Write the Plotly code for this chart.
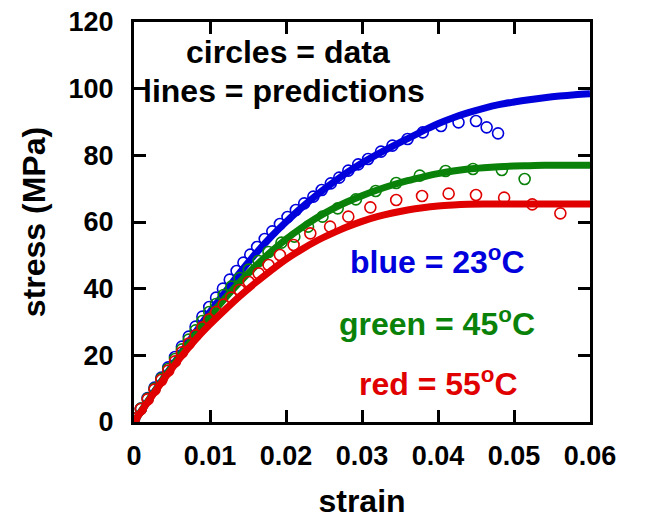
import plotly.graph_objects as go

# ---- prediction curves (lines) ----
pred_strain = [0.000, 0.002, 0.004, 0.006, 0.008, 0.010, 0.012, 0.014, 0.016, 0.018,
               0.020, 0.022, 0.024, 0.026, 0.028, 0.030, 0.032, 0.034, 0.036, 0.038,
               0.040, 0.042, 0.044, 0.046, 0.048, 0.050, 0.052, 0.054, 0.056, 0.058, 0.060]
pred_blue = [0, 6.8, 13.5, 20.0, 26.6, 33.0, 39.0, 45.0, 50.5, 55.5,
             60.0, 64.2, 68.0, 71.5, 74.8, 77.7, 80.3, 82.7, 85.0, 87.3,
             89.5, 91.3, 92.8, 94.1, 95.2, 96.0, 96.7, 97.3, 97.8, 98.2, 98.5]
pred_green = [0, 6.8, 13.4, 19.8, 25.9, 31.8, 37.2, 42.2, 46.8, 51.0,
              54.8, 58.2, 61.2, 63.8, 66.0, 67.9, 69.6, 71.1, 72.4, 73.5,
              74.5, 75.3, 75.9, 76.3, 76.6, 76.8, 76.9, 77.0, 77.0, 77.0, 77.0]
pred_red = [0, 6.6, 13.0, 19.0, 24.5, 29.3, 33.7, 37.9, 41.8, 45.4,
            48.8, 51.7, 54.3, 56.5, 58.5, 60.2, 61.6, 62.7, 63.6, 64.3,
            64.8, 65.1, 65.3, 65.4, 65.4, 65.4, 65.4, 65.4, 65.4, 65.4, 65.4]

# ---- measured data (circles) ----
blue_strain = [0.0000, 0.0009, 0.0018, 0.0027, 0.0036, 0.0045, 0.0054, 0.0063, 0.0072, 0.0081,
               0.0090, 0.0099, 0.0108, 0.0117, 0.0126, 0.0135, 0.0144, 0.0153, 0.0162, 0.0172,
               0.0182, 0.0192, 0.0202, 0.0213, 0.0224, 0.0236, 0.0247, 0.0259, 0.0270, 0.0282,
               0.0295, 0.0308, 0.0325, 0.0340, 0.0360, 0.0380, 0.0404, 0.0427, 0.0450, 0.0464, 0.0479]
blue_stress = [1.0, 4.0, 7.2, 10.3, 13.3, 16.4, 19.5, 22.6, 25.6, 28.6,
               31.6, 34.5, 37.3, 40.0, 42.7, 45.3, 47.8, 50.2, 52.5, 54.9,
               57.2, 59.4, 61.5, 63.6, 65.6, 67.6, 69.6, 71.6, 73.3, 75.4,
               77.3, 78.9, 81.1, 82.9, 84.9, 86.9, 88.8, 89.9, 90.3, 88.4, 86.6]

green_strain = [0.0000, 0.0009, 0.0018, 0.0027, 0.0036, 0.0045, 0.0054, 0.0063, 0.0072, 0.0081,
                0.0090, 0.0099, 0.0108, 0.0118, 0.0128, 0.0139, 0.0151, 0.0164, 0.0177, 0.0194,
                0.0211, 0.0229, 0.0248, 0.0268, 0.0292, 0.0318, 0.0345, 0.0376, 0.0410, 0.0446,
                0.0484, 0.0514]
green_stress = [1.0, 4.0, 7.0, 10.0, 13.0, 15.9, 18.9, 21.8, 24.7, 27.5,
                30.3, 33.0, 35.4, 38.1, 40.6, 43.2, 45.7, 48.3, 51.0, 53.8,
                55.6, 58.6, 61.6, 64.1, 66.8, 69.3, 71.7, 73.9, 75.3, 75.9,
                75.6, 72.9]

red_strain = [0.0000, 0.0009, 0.0018, 0.0027, 0.0036, 0.0045, 0.0054, 0.0063, 0.0072, 0.0081,
              0.0090, 0.0099, 0.0108, 0.0118, 0.0128, 0.0139, 0.0151, 0.0164, 0.0177, 0.0192,
              0.0210, 0.0232, 0.0258, 0.0282, 0.0311, 0.0345, 0.0379, 0.0414, 0.0450, 0.0487,
              0.0524, 0.0561]
red_stress = [1.0, 3.9, 6.8, 9.7, 12.6, 15.4, 18.2, 20.9, 23.5, 26.0,
              28.4, 30.8, 33.0, 35.2, 37.3, 39.6, 42.0, 44.6, 47.1, 50.1,
              53.1, 56.6, 58.6, 61.6, 64.4, 66.6, 67.8, 68.5, 68.1, 67.3,
              65.3, 62.6]

x_ticks = [0, 0.01, 0.02, 0.03, 0.04, 0.05, 0.06]
x_ticktext = ["0", "0.01", "0.02", "0.03", "0.04", "0.05", "0.06"]
y_ticks = [0, 20, 40, 60, 80, 100, 120]

BLUE = "#0000dd"
GREEN = "#0a820a"
RED = "#e00000"
FONT = "Liberation Sans, Arial, sans-serif"

fig = go.Figure()

series = [
    (pred_blue, blue_strain, blue_stress, BLUE),
    (pred_green, green_strain, green_stress, GREEN),
    (pred_red, red_strain, red_stress, RED),
]
for pred, xs, ys, col in series:
    fig.add_trace(go.Scatter(x=pred_strain, y=pred, mode="lines",
                             line=dict(color=col, width=7, shape="spline"),
                             showlegend=False, hoverinfo="skip"))
    fig.add_trace(go.Scatter(x=xs, y=ys, mode="markers",
                             marker=dict(symbol="circle-open", size=11, color=col,
                                         line=dict(width=1.6, color=col)),
                             showlegend=False))

ann_font = dict(family=FONT, size=32, color="black", weight="bold")
annotations = [
    dict(x=0.0203, y=111, text="circles = data", font=ann_font),
    dict(x=0.0197, y=99.3, text="lines = predictions", font=ann_font),
    dict(x=0.0399, y=48.6, text="blue = 23<sup>o</sup>C", font=dict(ann_font, color=BLUE)),
    dict(x=0.0399, y=30.0, text="green = 45<sup>o</sup>C", font=dict(ann_font, color=GREEN)),
    dict(x=0.0400, y=12.0, text="red = 55<sup>o</sup>C", font=dict(ann_font, color=RED)),
]
for a in annotations:
    fig.add_annotation(xref="x", yref="y", showarrow=False, xanchor="center",
                       yanchor="middle", **a)

axis_common = dict(showline=True, linecolor="black", linewidth=3, mirror="allticks",
                   ticks="inside", ticklen=12, tickwidth=2.5, tickcolor="black",
                   showgrid=False, zeroline=False, automargin=False,
                   tickfont=dict(family=FONT, size=27, color="black", weight="bold"))

fig.update_layout(
    width=649, height=520,
    margin=dict(l=134, r=59, t=22, b=98),
    paper_bgcolor="white", plot_bgcolor="white",
    xaxis=dict(range=[0, 0.06], tickvals=x_ticks, ticktext=x_ticktext,
               ticklabelstandoff=8,
               title=dict(text="strain", standoff=20,
                          font=dict(family=FONT, size=32, color="black", weight="bold")),
               **axis_common),
    yaxis=dict(range=[0, 120], tickvals=y_ticks,
               ticklabelstandoff=12,
               title=dict(text="stress (MPa)", standoff=14,
                          font=dict(family=FONT, size=32, color="black", weight="bold")),
               **axis_common),
)

fig.write_html("out.html")
